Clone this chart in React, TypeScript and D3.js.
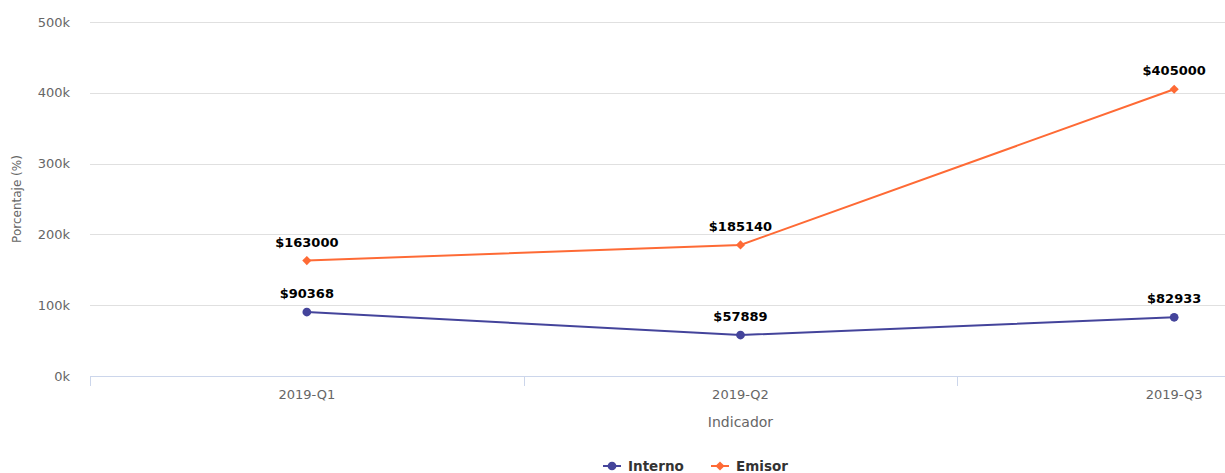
import React, { Component } from 'react';
import * as d3 from 'd3';

const quarters = ['2019-Q1', '2019-Q2', '2019-Q3'];
const interno = [90368, 57889, 82933];
const emisor = [163000, 185140, 405000];
const yTicks = [0, 100000, 200000, 300000, 400000, 500000];

const series = [
  { name: 'Interno', values: interno, color: '#44449b', diamond: false },
  { name: 'Emisor', values: emisor, color: '#fe6a35', diamond: true },
];

const W = 1225;
const H = 473;
const FONT = '"DejaVu Sans", Verdana, sans-serif';

// highcharts-like markers: circle, or a square turned 45deg
const marker = (diamond: boolean) =>
  diamond
    ? d3.symbol().type(d3.symbolSquare).size(42)()
    : d3.symbol().type(d3.symbolCircle).size(60)();

export default class App extends Component {
  svgRef = React.createRef<SVGSVGElement>();

  componentDidMount() {
    this.plotGraph();
  }

  componentDidUpdate() {
    this.plotGraph();
  }

  plotGraph = () => {
    const svg = d3.select(this.svgRef.current);
    svg.selectAll('*').remove();

    const left = 90;
    const top = 22;
    const bottom = 376;

    // the plot runs past the right edge of the picture, like the reference
    const xScale = d3.scaleBand().domain(quarters).range([left, 1391]);
    const yScale = d3.scaleLinear().domain([0, 500000]).range([bottom, top]);
    const cx = (q: string) => (xScale(q) as number) + xScale.bandwidth() / 2;

    // grid
    svg.append('g')
      .selectAll('line')
      .data(yTicks.filter((t) => t > 0))
      .enter()
      .append('line')
      .attr('x1', left)
      .attr('x2', W)
      .attr('y1', (d) => Math.round(yScale(d)) + 0.5)
      .attr('y2', (d) => Math.round(yScale(d)) + 0.5)
      .attr('stroke', '#e0e0e0')
      .attr('stroke-width', 1);

    // y labels
    svg.append('g')
      .selectAll('text')
      .data(yTicks)
      .enter()
      .append('text')
      .attr('x', 70)
      .attr('y', (d) => yScale(d) + 4.5)
      .attr('text-anchor', 'end')
      .attr('fill', '#666')
      .style('font-family', FONT)
      .style('font-size', '13px')
      .text((d) => `${d / 1000}k`);

    // x axis
    svg.append('line')
      .attr('x1', left)
      .attr('x2', W)
      .attr('y1', bottom + 0.5)
      .attr('y2', bottom + 0.5)
      .attr('stroke', '#ccd6eb');

    svg.append('g')
      .selectAll('line')
      .data(quarters)
      .enter()
      .append('line')
      .attr('x1', (d) => Math.round(xScale(d) as number) + 0.5)
      .attr('x2', (d) => Math.round(xScale(d) as number) + 0.5)
      .attr('y1', bottom)
      .attr('y2', bottom + 10)
      .attr('stroke', '#ccd6eb');

    svg.append('g')
      .selectAll('text')
      .data(quarters)
      .enter()
      .append('text')
      .attr('x', (d) => cx(d))
      .attr('y', 399)
      .attr('text-anchor', 'middle')
      .attr('fill', '#666')
      .style('font-family', FONT)
      .style('font-size', '13px')
      .text((d) => d);

    svg.append('text')
      .attr('x', cx(quarters[1]))
      .attr('y', 427)
      .attr('text-anchor', 'middle')
      .attr('fill', '#666')
      .style('font-family', FONT)
      .style('font-size', '14px')
      .text('Indicador');

    svg.append('text')
      .attr('transform', `translate(21, ${(top + bottom) / 2}) rotate(-90)`)
      .attr('text-anchor', 'middle')
      .attr('fill', '#666')
      .style('font-family', FONT)
      .style('font-size', '12px')
      .text('Porcentaje (%)');

    // lines, markers, labels
    const line = d3.line<number>()
      .x((d, i) => cx(quarters[i]))
      .y((d) => yScale(d));

    series.forEach((s) => {
      svg.append('path')
        .datum(s.values)
        .attr('d', line)
        .attr('fill', 'none')
        .attr('stroke', s.color)
        .attr('stroke-width', 2);

      svg.append('g')
        .selectAll('path')
        .data(s.values)
        .enter()
        .append('path')
        .attr('transform', (d, i) =>
          `translate(${cx(quarters[i])}, ${yScale(d)})${s.diamond ? ' rotate(45)' : ''}`)
        .attr('d', marker(s.diamond))
        .attr('fill', s.color);

      svg.append('g')
        .selectAll('text')
        .data(s.values)
        .enter()
        .append('text')
        .attr('x', (d, i) => cx(quarters[i]))
        .attr('y', (d) => yScale(d) - 14)
        .attr('text-anchor', 'middle')
        .attr('fill', '#000')
        .attr('stroke', '#fff')
        .attr('stroke-width', 2)
        .attr('paint-order', 'stroke')
        .style('font-family', FONT)
        .style('font-size', '13px')
        .style('font-weight', 'bold')
        .text((d) => `$${d}`);
    });

    // legend
    const legendX = [603, 711];
    series.forEach((s, i) => {
      const g = svg.append('g').attr('transform', `translate(${legendX[i]}, 466)`);
      g.append('line')
        .attr('x1', 0)
        .attr('x2', 18)
        .attr('stroke', s.color)
        .attr('stroke-width', 2);
      g.append('path')
        .attr('transform', `translate(9, 0)${s.diamond ? ' rotate(45)' : ''}`)
        .attr('d', marker(s.diamond))
        .attr('fill', s.color);
      g.append('text')
        .attr('x', 25)
        .attr('y', 5)
        .attr('fill', '#333')
        .style('font-family', FONT)
        .style('font-size', '13.5px')
        .style('font-weight', 'bold')
        .text(s.name);
    });
  };

  render() {
    return (
      <div style={{ position: 'absolute', left: 0, top: 0 }}>
        <svg ref={this.svgRef} width={W} height={H} style={{ display: 'block', overflow: 'hidden' }} />
      </div>
    );
  }
}
